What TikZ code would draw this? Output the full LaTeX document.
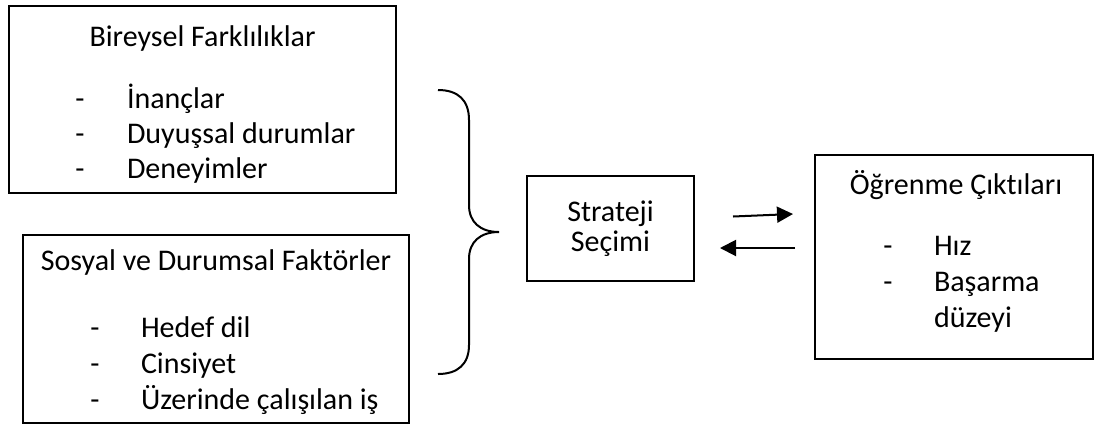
\documentclass[tikz,border=0pt]{standalone}
\usepackage{fontspec}
\setmainfont{Carlito}[Ligatures=NoCommon]
\usepackage{tikz}
\usetikzlibrary{arrows.meta}

\begin{document}
\begin{tikzpicture}[x=0.5pt, y=-0.5pt, line width=1pt,
  font=\fontsize{15}{17.5}\selectfont,
  kutu/.style={draw, rectangle, inner sep=0pt},
  yazi/.style={inner sep=0pt, text height=12pt, text depth=3pt},
  madde/.style={yazi, anchor=west},
  ok/.style={-{Triangle[length=8pt,width=8pt]}}]
\useasboundingbox (0,0) rectangle (1099,425);

% bireysel farkliliklar
\node [kutu, minimum width=193.5pt, minimum height=93.5pt] (birey) at (202.5,99.5) {};
\node [yazi] at ([shift={(0,-62.5)}]birey) {Bireysel Farklılıklar};
\node [yazi] at ([shift={(-122.5,-0.5)}]birey) {-};
\node [madde] (inanc) at ([shift={(-76.5,-0.5)}]birey) {İnançlar};
\node [yazi] at ([shift={(-122.5,34.5)}]birey) {-};
\node [madde] (duyus) at ([shift={(-76.5,34.5)}]birey) {Duyuşsal durumlar};
\node [yazi] at ([shift={(-122.5,69.5)}]birey) {-};
\node [madde] (deney) at ([shift={(-76.5,69.5)}]birey) {Deneyimler};

% sosyal ve durumsal faktorler
\node [kutu, minimum width=193pt, minimum height=94pt] (sosyal) at (216,329) {};
\node [yazi] at ([shift={(0,-68)}]sosyal) {Sosyal ve Durumsal Faktörler};
\node [yazi] at ([shift={(-121,-1)}]sosyal) {-};
\node [madde] (hedef) at ([shift={(-76,-1)}]sosyal) {Hedef dil};
\node [yazi] at ([shift={(-121,35)}]sosyal) {-};
\node [madde] (cins) at ([shift={(-76,35)}]sosyal) {Cinsiyet};
\node [yazi] at ([shift={(-121,71)}]sosyal) {-};
\node [madde] (is) at ([shift={(-76,71)}]sosyal) {Üzerinde çalışılan iş};

% kume parantezi
\draw (438,90) .. controls (458,90) and (469,100) .. (469,120)
  -- (469,205) .. controls (469,222) and (480,232) .. (499,232)
  .. controls (480,232) and (469,242) .. (469,259)
  -- (469,345) .. controls (469,364) and (458,374) .. (438,374);

% strateji secimi
\node [kutu, minimum width=83.5pt, minimum height=52.5pt, align=center] (secim)
  at (610.5,228.5) {Strateji\\[-2.5pt]Seçimi};

% ogrenme ciktilari
\node [kutu, minimum width=139pt, minimum height=102pt] (cikti) at (954,257) {};
\node [yazi] at ([shift={(2,-72)}]cikti) {Öğrenme Çıktıları};
\node [yazi] at ([shift={(-66,-11)}]cikti) {-};
\node [madde] (hiz) at ([shift={(-21,-11)}]cikti) {Hız};
\node [yazi] at ([shift={(-66,25)}]cikti) {-};
\node [madde] (basar) at ([shift={(-21,25)}]cikti) {Başarma};
\node [madde] (duzey) at ([shift={(-21,61)}]cikti) {düzeyi};

% oklar
\draw [ok] ([shift={(38,-12)}]secim.east) -- ([shift={(-21,-43)}]cikti.west);
\draw [ok] ([shift={(-19,-9)}]cikti.west) -- ([shift={(25,19.5)}]secim.east);
\end{tikzpicture}
\end{document}
